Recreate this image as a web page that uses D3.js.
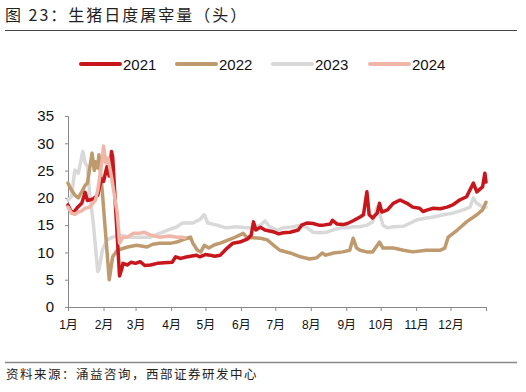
<!DOCTYPE html>
<html>
<head>
<meta charset="utf-8">
<script src="https://cdn.jsdelivr.net/npm/d3@7"></script>
<style>
    body { margin: 0; background: #fff; }
    svg { display: block; }
</style>
</head>
<body>
<svg id="chart" width="526" height="392"></svg>
<script>
// [day of year, slaughter count (10k head)]
const s2021 = [[0,18.7],[3,17.3],[6,17.6],[8,18.2],[12,19.0],[15,21.0],[17,19.5],[22,19.8],[26,20.5],[29,23.5],[31,23.0],[34,25.7],[36,24.0],[38,28.5],[39,27.5],[45,5.7],[47,7.0],[48,8.0],[52,7.7],[55,8.2],[59,8.0],[63,8.3],[67,7.6],[72,7.7],[78,8.0],[84,8.1],[91,8.2],[94,9.2],[98,8.9],[102,9.1],[107,9.3],[112,9.5],[115,9.2],[120,9.6],[124,9.5],[128,9.3],[133,9.5],[139,10.8],[144,11.7],[150,11.9],[157,12.5],[160,13.2],[162,15.6],[164,14.1],[168,14.6],[172,14.1],[179,13.8],[184,13.4],[188,13.6],[194,13.7],[201,14.1],[204,15.0],[209,15.4],[214,15.3],[219,15.0],[223,15.0],[229,15.2],[231,15.9],[235,15.2],[240,15.1],[244,15.3],[249,15.8],[255,16.5],[258,16.9],[261,21.1],[263,16.9],[266,16.3],[270,17.2],[272,19.0],[274,17.4],[279,17.8],[284,19.0],[290,19.6],[296,19.0],[301,18.3],[307,18.1],[310,17.5],[314,17.8],[319,18.1],[325,18.0],[331,18.3],[336,18.7],[342,19.6],[348,20.2],[354,22.7],[357,21.1],[362,22.0],[364,24.5],[365,22.9]];
const s2022 = [[0,22.7],[2,21.8],[6,20.5],[9,20.0],[12,21.1],[15,22.3],[17,22.7],[21,28.2],[23,25.0],[24,26.6],[26,25.5],[27,27.9],[28,25.5],[30,21.0],[36,5.0],[39,9.2],[43,10.4],[52,11.0],[60,11.3],[69,11.0],[74,11.5],[80,11.7],[90,11.7],[95,11.9],[100,12.3],[104,12.6],[107,12.8],[109,11.7],[113,10.4],[116,10.1],[119,11.3],[123,10.8],[128,11.4],[133,11.7],[144,12.6],[153,13.5],[156,12.8],[168,12.6],[174,12.3],[179,11.4],[185,10.4],[194,9.9],[203,9.2],[211,8.8],[217,9.0],[222,9.9],[225,9.5],[232,9.9],[240,10.1],[246,10.4],[249,12.6],[252,10.8],[255,10.4],[261,10.1],[266,10.1],[272,11.9],[275,10.8],[284,10.8],[293,10.4],[301,10.1],[313,10.4],[325,10.4],[329,10.8],[332,12.8],[340,14.1],[348,15.6],[357,16.9],[362,17.8],[365,19.2]];
const s2023 = [[0,19.6],[3,20.2],[5,23.5],[6,25.1],[9,24.5],[11,26.5],[13,28.5],[15,26.4],[17,25.7],[19,20.5],[22,15.6],[24,11.0],[26,6.5],[27,6.8],[30,10.4],[34,12.3],[39,12.8],[45,13.2],[54,12.8],[63,12.8],[72,12.8],[80,13.5],[87,14.1],[95,14.7],[100,15.4],[109,15.4],[115,16.0],[119,16.9],[122,15.4],[130,15.0],[138,14.5],[147,14.7],[156,14.5],[161,14.5],[168,15.0],[172,15.8],[176,14.7],[183,14.1],[188,14.5],[197,14.7],[203,15.0],[209,14.5],[214,13.7],[220,13.6],[226,13.7],[231,14.1],[238,14.5],[244,14.5],[249,14.7],[255,14.7],[261,15.0],[266,15.6],[270,18.3],[272,17.2],[275,15.0],[279,14.5],[284,14.7],[293,14.8],[299,15.4],[305,16.0],[313,16.3],[319,16.5],[328,16.9],[336,17.2],[345,17.8],[351,18.3],[354,20.0],[357,19.0],[362,18.3],[365,18.3]];
const s2024 = [[0,18.3],[3,17.2],[6,17.0],[9,17.4],[12,17.6],[15,18.1],[19,18.3],[24,19.6],[26,21.4],[29,25.7],[30,27.0],[31,29.5],[33,26.4],[35,27.3],[38,23.8],[43,17.2],[45,11.7],[48,12.8],[52,12.8],[57,13.5],[62,13.5],[66,13.7],[72,13.2],[80,12.8],[89,13.0],[95,12.8],[100,12.8],[102,12.7]];

const years = ['2021', '2022', '2023', '2024'];
const colors = ['#c8161d', '#bf9a6e', '#d9d9d9', '#f0b6a8'];
const seriesList = [s2021, s2022, s2023, s2024];

const monthStarts = [0, 31, 59, 90, 120, 151, 181, 212, 243, 273, 304, 334];
const monthLabels = ['1月', '2月', '3月', '4月', '5月', '6月', '7月', '8月', '9月', '10月', '11月', '12月'];
const yTicks = [0, 5, 10, 15, 20, 25, 30, 35];

const svg = d3.select('#chart');
const latin = 'Liberation Sans, Arial, sans-serif';
const cjk = 'Noto Sans CJK SC, sans-serif';

// header and footer
svg.append('text')
    .attr('x', 5).attr('y', 21)
    .attr('font-family', cjk).attr('font-size', 16)
    .attr('letter-spacing', 2)
    .attr('fill', '#222')
    .text('图 23：生猪日度屠宰量（头）');

svg.append('line')
    .attr('x1', 5).attr('x2', 517).attr('y1', 30.5).attr('y2', 30.5)
    .attr('stroke', '#444').attr('stroke-width', 1);

svg.append('line')
    .attr('x1', 5).attr('x2', 517).attr('y1', 362.5).attr('y2', 362.5)
    .attr('stroke', '#888').attr('stroke-width', 1.5);

svg.append('text')
    .attr('x', 6).attr('y', 379)
    .attr('font-family', cjk).attr('font-size', 12.5)
    .attr('letter-spacing', 1.5)
    .attr('fill', '#222')
    .text('资料来源：涌益咨询，西部证券研发中心');

// legend
const legendX = [80, 176, 272, 369];
const legend = svg.append('g')
    .selectAll('g')
    .data(years)
    .join('g')
    .attr('transform', (d, i) => `translate(${legendX[i]},64)`);

legend.append('line')
    .attr('x1', 1).attr('x2', 40)
    .attr('stroke', (d, i) => colors[i])
    .attr('stroke-width', 4)
    .attr('stroke-linecap', 'round');

legend.append('text')
    .attr('x', 43).attr('y', 5.5)
    .attr('font-family', latin).attr('font-size', 15)
    .attr('fill', '#111')
    .text(d => d);

// scales
const x = d3.scaleLinear().domain([0, 365]).range([68, 486]);
const y = d3.scaleLinear().domain([0, 35]).range([307, 116]);

const yAxis = svg.append('g')
    .attr('transform', 'translate(68,0)')
    .call(d3.axisLeft(y).tickValues(yTicks).tickSize(3).tickPadding(11));

const xAxis = svg.append('g')
    .attr('transform', 'translate(0,307)')
    .call(d3.axisBottom(x).tickValues(monthStarts.concat([365])).tickSize(4).tickPadding(9)
        .tickFormat((d, i) => monthLabels[i] || ''));

[xAxis, yAxis].forEach(a => {
    a.select('.domain').attr('stroke', '#888');
    a.selectAll('.tick line').attr('stroke', '#888');
});
yAxis.selectAll('text').attr('font-family', latin).attr('font-size', 15).attr('fill', '#111');
xAxis.selectAll('text').attr('font-family', latin + ', ' + cjk).attr('font-size', 12).attr('fill', '#111');

// lines, grey underneath, 2024 on top
const line = d3.line()
    .x(d => x(d[0]))
    .y(d => y(d[1]));

const drawOrder = [2, 1, 0, 3];
svg.append('g')
    .selectAll('path')
    .data(drawOrder)
    .join('path')
    .attr('d', i => line(seriesList[i]))
    .attr('fill', 'none')
    .attr('stroke', i => colors[i])
    .attr('stroke-width', 3.5)
    .attr('stroke-linejoin', 'round')
    .attr('stroke-linecap', 'round');
</script>
</body>
</html>
